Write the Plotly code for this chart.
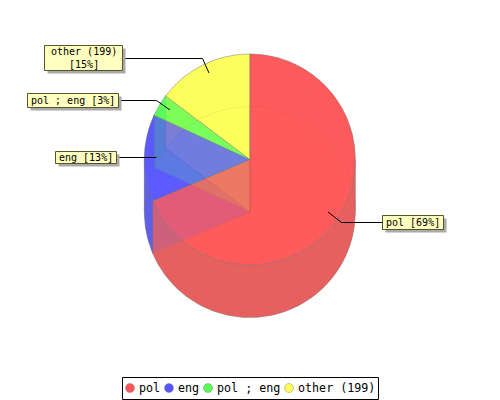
import numpy as np
import plotly.graph_objects as go

# Kreisdaten (Anteile, Beschriftung gerundet)
labels = ["pol", "eng", "pol ; eng", "other (199)"]
shares = [68.6, 13.3, 3.4, 14.7]
label_texts = ["pol [69%]", "eng [13%]", "pol ; eng [3%]", "other (199)<br>[15%]"]

face_colors = ["rgba(255,75,75,0.7)", "rgba(75,75,255,0.7)", "rgba(75,255,75,0.7)", "rgba(255,255,75,0.7)"]
wall_colors = ["rgba(222,85,85,0.75)", "rgba(85,85,222,0.75)", "rgba(85,222,85,0.75)", "rgba(222,222,85,0.75)"]
back_colors = ["rgba(245,85,85,0.75)", "rgba(85,85,245,0.75)", "rgba(85,245,85,0.75)", "rgba(245,245,85,0.75)"]
radial_colors = ["rgba(255,135,135,0.3)", "rgba(135,135,255,0.3)", "rgba(135,255,135,0.3)", "rgba(255,255,135,0.3)"]
legend_colors = ["#ff5555", "#5555ff", "#55ff55", "#ffff55"]
EDGE = "rgba(120,120,120,0.45)"
FONT = "DejaVu Sans Mono"

# Geometrie in Pixeln
CX, CY, R, DEPTH = 249.8, 159.5, 105.5, 52.5


def arc(a1, a2, dy=0):
    t = np.radians(np.linspace(a1, a2, 120))
    return CX + R * np.sin(t), CY + dy - R * np.cos(t)


def poly(fig, xs, ys, color):
    fig.add_trace(go.Scatter(x=list(xs), y=list(ys), mode="lines", fill="toself", fillcolor=color,
                             line=dict(color=EDGE, width=0.6), hoverinfo="skip", showlegend=False))


angles = np.concatenate([[0], np.cumsum(shares) / np.sum(shares) * 360])

fig = go.Figure()

# Bodenflaechen
for i in range(len(shares)):
    x, y = arc(angles[i], angles[i + 1], DEPTH)
    poly(fig, np.r_[CX, x, CX], np.r_[CY + DEPTH, y, CY + DEPTH], face_colors[i])

# Seitenwaende radial
for i in range(len(shares)):
    for a in (angles[i], angles[i + 1]):
        ex = CX + R * np.sin(np.radians(a))
        ey = CY - R * np.cos(np.radians(a))
        poly(fig, [CX, ex, ex, CX, CX], [CY, ey, ey + DEPTH, CY + DEPTH, CY], radial_colors[i])

# Aussenwand, an den Tangenten (90 und 270 Grad) aufgetrennt, hinten heller
for i in range(len(shares)):
    cuts = [angles[i]] + [c for c in (90, 270) if angles[i] < c < angles[i + 1]] + [angles[i + 1]]
    for a1, a2 in zip(cuts[:-1], cuts[1:]):
        x1, y1 = arc(a1, a2)
        x2, y2 = arc(a2, a1, DEPTH)
        hinten = a2 <= 90 or a1 >= 270
        poly(fig, np.r_[x1, x2, x1[0]], np.r_[y1, y2, y1[0]], back_colors[i] if hinten else wall_colors[i])

# Deckflaeche
fig.add_trace(go.Pie(labels=labels, values=shares, sort=False, direction="clockwise", rotation=0,
                     textinfo="none", hoverinfo="label+percent", showlegend=False,
                     marker=dict(colors=face_colors, line=dict(color=EDGE, width=0.8)),
                     domain=dict(x=[(CX - R) / 500, (CX + R) / 500],
                                 y=[1 - (CY + R) / 400, 1 - (CY - R) / 400])))

shapes = []
annotations = []


def line(points):
    for (x0, y0), (x1, y1) in zip(points[:-1], points[1:]):
        shapes.append(dict(type="line", x0=x0, y0=y0, x1=x1, y1=y1, xref="x", yref="y",
                           line=dict(color="black", width=1)))


def label_box(text, x0, y0, x1, y1):
    shapes.append(dict(type="rect", x0=x0 + 3, y0=y0 + 3, x1=x1 + 3, y1=y1 + 3, xref="x", yref="y",
                       fillcolor="#aaaaaa", line=dict(width=0)))
    shapes.append(dict(type="rect", x0=x0, y0=y0, x1=x1, y1=y1, xref="x", yref="y",
                       fillcolor="#ffffc0", line=dict(color="#55552a", width=1)))
    annotations.append(dict(x=(x0 + x1) / 2, y=(y0 + y1) / 2, xref="x", yref="y", text=text,
                            showarrow=False, font=dict(family=FONT, size=10, color="black"),
                            xanchor="center", yanchor="middle"))


# Beschriftungen
line([(382.5, 222.5), (341.5, 222.5), (328, 212)])
line([(117.5, 157.5), (156.5, 157.5)])
line([(119.5, 100.5), (156.5, 100.5), (170, 110)])
line([(124.5, 58.5), (202.5, 58.5), (209, 73)])
label_box(label_texts[0], 382.5, 215.5, 443.5, 229.5)
label_box(label_texts[1], 55.5, 151.5, 116.5, 163.5)
label_box(label_texts[2], 27.5, 93.5, 118.5, 107.5)
label_box(label_texts[3], 44.5, 45.5, 122.5, 70.5)

# Legende
shapes.append(dict(type="rect", x0=122.5, y0=377.5, x1=378.5, y1=399.5, xref="x", yref="y",
                   fillcolor="white", line=dict(color="black", width=1)))
for name, col, cx in zip(labels, legend_colors, [130, 169, 208, 289]):
    shapes.append(dict(type="circle", x0=cx - 4.5, y0=383.5, x1=cx + 4.5, y1=392.5, xref="x", yref="y",
                       fillcolor=col, line=dict(color="rgba(120,120,120,0.6)", width=0.7)))
    annotations.append(dict(x=cx + 7, y=388, xref="x", yref="y", text=name, showarrow=False,
                            font=dict(family=FONT, size=11.7, color="black"),
                            xanchor="left", yanchor="middle"))

fig.update_layout(width=500, height=400, margin=dict(l=0, r=0, t=0, b=0),
                  paper_bgcolor="white", plot_bgcolor="white", showlegend=False,
                  xaxis=dict(range=[0, 500], visible=False, fixedrange=True),
                  yaxis=dict(range=[400, 0], visible=False, fixedrange=True),
                  shapes=shapes, annotations=annotations)

# Seitenrand vom Browser weg, sonst ist alles um 8 px verschoben
fig.write_html("out.html", config=dict(displayModeBar=False),
               post_script="document.body.style.margin='0';")
